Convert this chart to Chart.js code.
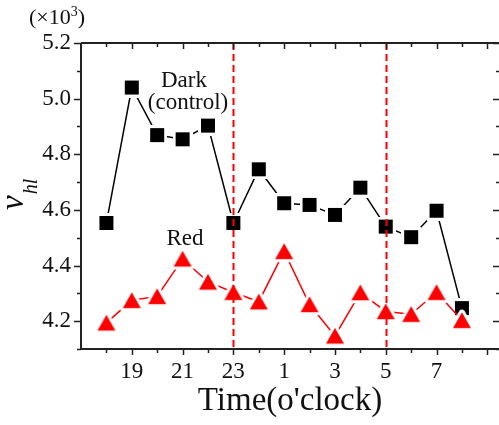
<!DOCTYPE html>
<html>
<head>
<meta charset="utf-8">
<script src="https://cdn.jsdelivr.net/npm/chart.js@4.4.0/dist/chart.umd.min.js"></script>
<style>
  html, body { margin: 0; padding: 0; background: #fff; overflow: hidden; }
  canvas { display: block; }
</style>
</head>
<body>
<canvas id="chartVhl" width="499" height="425"></canvas>
<script>
// values
const hours = [18, 19, 20, 21, 22, 23, 0, 1, 2, 3, 4, 5, 6, 7, 8];
const darkValues = [4.553, 5.040, 4.869, 4.854, 4.903, 4.553, 4.746, 4.624, 4.618, 4.582, 4.680, 4.540, 4.502, 4.597, 4.247];
const redValues = [4.194, 4.275, 4.289, 4.424, 4.341, 4.304, 4.270, 4.451, 4.260, 4.147, 4.303, 4.235, 4.225, 4.304, 4.203];
const hourTickLabels = [19, 21, 23, 1, 3, 5, 7];
const yTickLabels = ['4.2', '4.4', '4.6', '4.8', '5.0', '5.2'];
const dividerHours = [23, 5];

const SERIF = '"Liberation Serif", "Times New Roman", serif';

// hours after midnight keep going on the axis (0 -> 24)
function toAxis(h) {
  return h < 12 ? h + 24 : h;
}

function points(values) {
  return hours.map((h, i) => ({ x: toAxis(h), y: values[i] }));
}

// markers with a white rim, so the lines stop short of the symbol
function squareMarker() {
  const c = document.createElement('canvas');
  c.width = 20; c.height = 20;
  const g = c.getContext('2d');
  g.fillStyle = '#fff';
  g.fillRect(0, 0, 20, 20);
  g.fillStyle = '#000';
  g.fillRect(3, 3, 14, 14);
  return c;
}

function triangleMarker() {
  const c = document.createElement('canvas');
  c.width = 26; c.height = 23;
  const g = c.getContext('2d');
  g.beginPath();
  g.moveTo(13, 3.6);
  g.lineTo(22, 19.2);
  g.lineTo(4, 19.2);
  g.closePath();
  g.lineJoin = 'round';
  g.strokeStyle = '#fff';
  g.lineWidth = 6;
  g.stroke();
  g.fillStyle = '#ff0000';
  g.fill();
  return c;
}

function isMajorX(v) { return Math.round(v) % 2 === 1; }
function isMajorY(v) { return Math.round(v * 10) % 2 === 0; }

function noPadding(scale) {
  scale.paddingLeft = 0;
  scale.paddingRight = 0;
  scale.paddingTop = 0;
  scale.paddingBottom = 0;
}

const framePlugin = {
  id: 'frame',
  afterDatasetsDraw(chart) {
    const ctx = chart.ctx;
    const a = chart.chartArea;
    const x = chart.scales.x;
    ctx.save();
    ctx.strokeStyle = '#ff0000';
    ctx.lineWidth = 2;
    ctx.setLineDash([7, 4]);
    dividerHours.forEach(h => {
      const px = Math.round(x.getPixelForValue(toAxis(h))) + 0.5;
      ctx.beginPath();
      ctx.moveTo(px, a.top);
      ctx.lineTo(px, a.bottom);
      ctx.stroke();
    });
    ctx.restore();
  },
  afterDraw(chart) {
    const ctx = chart.ctx;
    const a = chart.chartArea;
    const xs = chart.scales.x;
    const ys = chart.scales.y;
    ctx.save();
    ctx.strokeStyle = '#222';
    ctx.lineWidth = 2;

    // axis lines (right one falls just outside the picture)
    ctx.beginPath();
    ctx.moveTo(a.left, a.top);
    ctx.lineTo(a.left, a.bottom);
    ctx.lineTo(a.right + 2, a.bottom);
    ctx.moveTo(a.left, a.top);
    ctx.lineTo(a.right + 2, a.top);
    ctx.stroke();

    // tick marks: out on bottom/left, in on top/right
    ctx.lineWidth = 1.5;
    ctx.beginPath();
    xs.ticks.forEach(t => {
      if (t.value <= xs.min) return;
      const px = Math.round(xs.getPixelForValue(t.value)) + 0.5;
      const len = isMajorX(t.value) ? 6 : 4;
      ctx.moveTo(px, a.bottom);
      ctx.lineTo(px, a.bottom + len);
      ctx.moveTo(px, a.top);
      ctx.lineTo(px, a.top + len);
    });
    ys.ticks.forEach(t => {
      const py = Math.round(ys.getPixelForValue(t.value)) + 0.5;
      const len = isMajorY(t.value) ? 7 : 4;
      ctx.moveTo(a.left, py);
      ctx.lineTo(a.left - len, py);
      ctx.moveTo(a.right + 1, py);
      ctx.lineTo(a.right + 1 - len, py);
    });
    ctx.stroke();

    ctx.fillStyle = '#111';
    ctx.textBaseline = 'alphabetic';

    // x title
    ctx.font = '33px ' + SERIF;
    ctx.textAlign = 'center';
    ctx.fillText("Time(o'clock)", (a.left + a.right) / 2, 410);

    // series notes
    ctx.font = '23px ' + SERIF;
    ctx.fillText('Dark', 184, 87);
    ctx.fillText('(control)', 188, 109);
    ctx.fillText('Red', 185, 245);

    // (x10^3) multiplier
    ctx.textAlign = 'left';
    ctx.font = '22px ' + SERIF;
    let cx = 29;
    ctx.fillText('(\u00d710', cx, 24);
    cx += ctx.measureText('(\u00d710').width;
    ctx.font = '14px ' + SERIF;
    ctx.fillText('3', cx, 16);
    cx += ctx.measureText('3').width;
    ctx.font = '22px ' + SERIF;
    ctx.fillText(')', cx, 24);

    // y title: nu with subscript hl
    ctx.translate(23, 210);
    ctx.rotate(-Math.PI / 2);
    ctx.font = 'italic 33px ' + SERIF;
    ctx.fillText('\u03bd', 0, 0);
    const w = ctx.measureText('\u03bd').width;
    ctx.font = 'italic 20px ' + SERIF;
    ctx.fillText('hl', w + 1, 14);
    ctx.restore();
  }
};

new Chart(document.getElementById('chartVhl'), {
  type: 'line',
  data: {
    datasets: [
      {
        label: 'Red',
        data: points(redValues),
        borderColor: '#ff0000',
        borderWidth: 1.5,
        pointStyle: triangleMarker(),
        pointRadius: 8
      },
      {
        label: 'Dark (control)',
        data: points(darkValues),
        borderColor: '#000',
        borderWidth: 1.5,
        pointStyle: squareMarker(),
        pointRadius: 8
      }
    ]
  },
  options: {
    responsive: false,
    animation: false,
    devicePixelRatio: 1,
    layout: {
      autoPadding: false,
      padding: { top: 43, right: 0, left: 0, bottom: 0 }
    },
    plugins: {
      legend: { display: false },
      tooltip: { enabled: false }
    },
    scales: {
      x: {
        type: 'linear',
        min: 17,
        max: 33.46,
        grid: { display: false, drawTicks: false },
        border: { display: false },
        afterFit(scale) {
          scale.height = 76;
          noPadding(scale);
        },
        ticks: {
          stepSize: 1,
          includeBounds: false,
          autoSkip: false,
          maxRotation: 0,
          padding: 9,
          color: '#111',
          font: { family: SERIF, size: 23 },
          callback(v) {
            const h = v % 24;
            return v > 17 && hourTickLabels.includes(h) ? String(h) : '';
          }
        }
      },
      y: {
        min: 4.1,
        max: 5.2,
        grid: { display: false, drawTicks: false },
        border: { display: false },
        afterFit(scale) {
          scale.width = 81;
          noPadding(scale);
        },
        ticks: {
          stepSize: 0.1,
          autoSkip: false,
          padding: 10,
          color: '#111',
          font: { family: SERIF, size: 23 },
          callback(v) {
            const s = v.toFixed(1);
            return yTickLabels.includes(s) ? s : '';
          }
        }
      }
    }
  },
  plugins: [framePlugin]
});
</script>
</body>
</html>
